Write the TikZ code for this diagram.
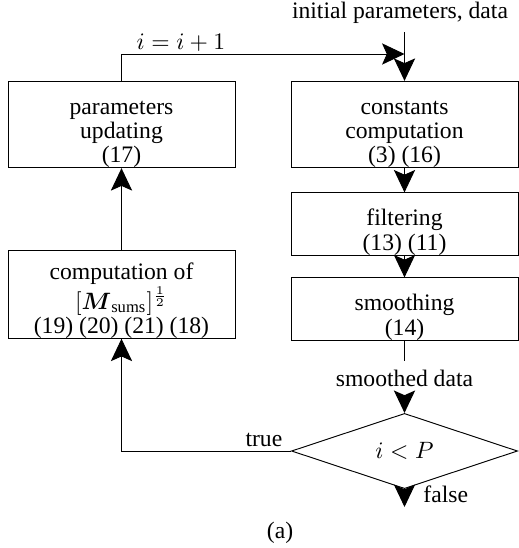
\documentclass[tikz,border=0pt]{standalone}
\usepackage{amsmath}
\usepackage{fontspec}
\setmainfont{Liberation Serif}
\usetikzlibrary{arrows.meta,shapes.geometric}

% pushes the first line of a block down a little
\newcommand{\lowstrut}{\rule{0pt}{14pt}}

\begin{document}
\begin{tikzpicture}[x=0.423pt, y=-0.423pt,
    block/.style={draw, rectangle, inner sep=0pt, minimum width=96pt, align=center,
        font=\fontsize{10pt}{10.2pt}\selectfont},
    tall/.style={block, minimum height=36pt},
    short/.style={block, minimum height=23.7pt},
    cond/.style={draw, diamond, inner sep=0pt, minimum width=95.6pt, minimum height=23.7pt},
    arr/.style={-{Stealth[length=9.5pt, width=9pt, inset=2pt]}}]
    \useasboundingbox (0,0) rectangle (518,548);

    % Left column: update loop
    \node[tall] (upd) at (121.5,124.5) {\lowstrut parameters\\updating\\(17)};
    \node[tall] (msums) at (121.5,294.5)
        {\rule{0pt}{12pt}computation of\\$[\boldsymbol{M}_{\text{sums}}]^{\frac{1}{2}}$\\(19) (20) (21) (18)};

    % Right column: main processing chain
    \node[tall] (const) at (404.5,124.5) {\lowstrut constants\\computation\\(3) (16)};
    \node[short] (filt) at (404.5,224) {\lowstrut filtering\\(13) (11)};
    \node[short] (smooth) at (404.5,309) {\lowstrut smoothing\\(14)};
    \node[cond] (test) at (404.5,451) {$i<P$};

    % Labels
    \node (input) at (400,13) {initial parameters, data};
    \node (sdata) at (404.5,378) {smoothed data};
    \coordinate (merge) at (404.5,54);
    \coordinate (stop) at (404.5,507);

    \draw[arr] (const.north |- input.south) -- (const.north);
    \draw[arr] (const) -- (filt);
    \draw[arr] (filt) -- (smooth);
    \draw (smooth.south) -- (sdata.north);
    \draw[arr] (sdata.south) -- (test.north);
    \draw[arr] (test.south) -- (stop) node[pos=0.3, right=4.5pt] {false};
    \draw[arr] (test.west) -| (msums.south) node[pos=0.08, above, inner sep=1.5pt] {true};
    \draw[arr] (msums) -- (upd);
    \draw[arr] (upd.north) |- (merge) node[pos=0.605, above, inner sep=1pt] {$i=i+1$};

    \node (caption) at (280,533) {(a)};
\end{tikzpicture}
\end{document}
